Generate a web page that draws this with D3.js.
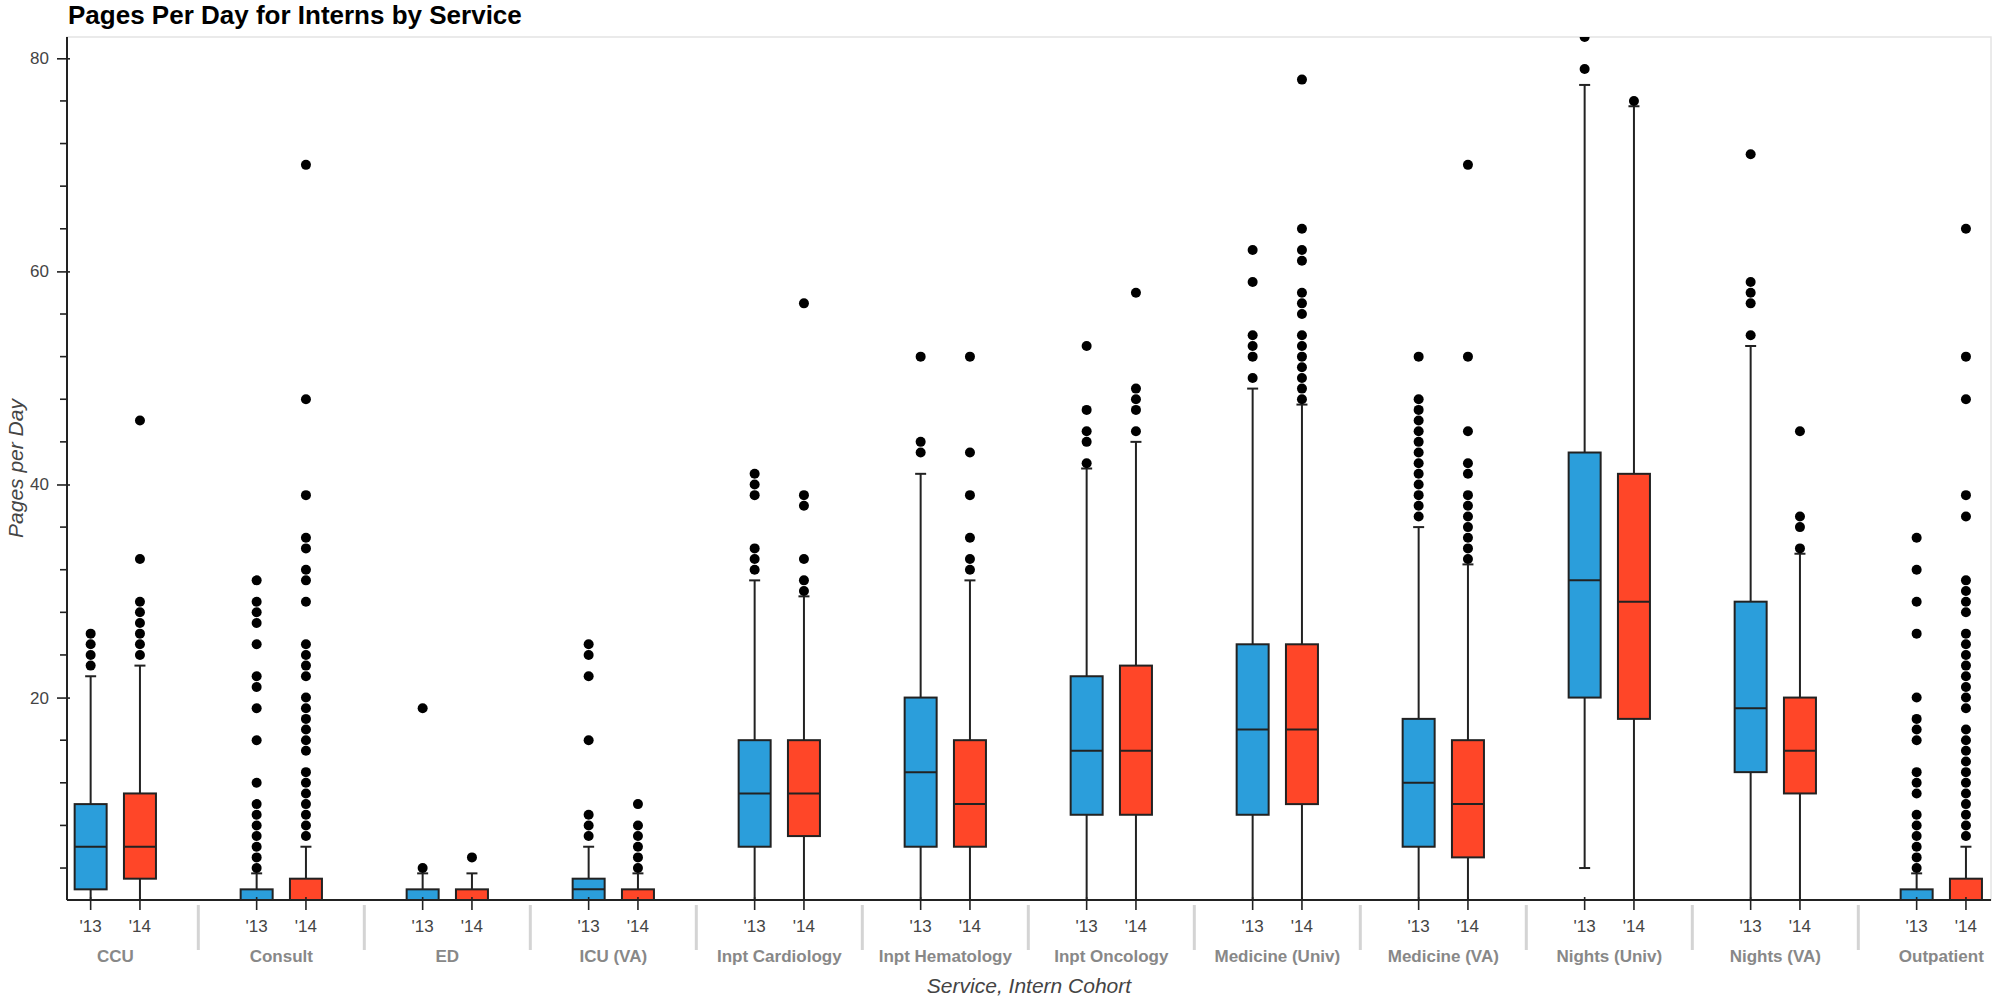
<!DOCTYPE html>
<html>
<head>
<meta charset="utf-8">
<script src="https://cdn.jsdelivr.net/npm/d3@7"></script>
<style>
  body { margin: 0; background: #fff; }
  svg { display: block; font-family: "Liberation Sans", Arial, Helvetica, sans-serif; }
</style>
</head>
<body>
<svg id="chart" width="1993" height="1000"></svg>
<script>
// services and cohorts
var services = ["CCU", "Consult", "ED", "ICU (VA)", "Inpt Cardiology", "Inpt Hematology",
                "Inpt Oncology", "Medicine (Univ)", "Medicine (VA)", "Nights (Univ)", "Nights (VA)", "Outpatient"];
var cohorts = ["'13", "'14"];
var yTicks = [20, 40, 60, 80];

// '13 cohort: box stats
var low13 = [0, 0, 0, 0, 0, 0, 0, 0, 0, 4, 0, 0];
var q1_13 = [2, 0, 0, 0, 6, 6, 9, 9, 6, 20, 13, 0];
var med13 = [6, 0, 0, 2, 11, 13, 15, 17, 12, 31, 19, 0];
var q3_13 = [10, 2, 2, 3, 16, 20, 22, 25, 18, 43, 29, 2];
var high13 = [22, 3.5, 3.5, 6, 31, 41, 41.5, 49, 36, 77.5, 53, 3.5];
var out13 = [
  [23, 24, 25, 26],
  [4, 5, 6, 7, 8, 9, 10, 12, 16, 19, 21, 22, 25, 27, 28, 29, 31],
  [4, 19],
  [7, 8, 9, 16, 22, 24, 25],
  [32, 33, 34, 39, 40, 41],
  [43, 44, 52],
  [42, 44, 45, 47, 53],
  [50, 52, 53, 54, 59, 62],
  [37, 38, 39, 40, 41, 42, 43, 44, 45, 46, 47, 48, 52],
  [79, 82],
  [54, 57, 58, 59, 71],
  [4, 5, 6, 7, 8, 9, 11, 12, 13, 16, 17, 18, 20, 26, 29, 32, 35]
];

// '14 cohort: box stats
var low14 = [0, 0, 0, 0, 0, 0, 0, 0, 0, 0, 0, 0];
var q1_14 = [3, 0, 0, 0, 7, 6, 9, 10, 5, 18, 11, 0];
var med14 = [6, 0, 0, 0, 11, 10, 15, 17, 10, 29, 15, 0];
var q3_14 = [11, 3, 2, 2, 16, 16, 23, 25, 16, 41, 20, 3];
var high14 = [23, 6, 3.5, 3.5, 29.5, 31, 44, 47.5, 32.5, 75.5, 33.5, 6];
var out14 = [
  [24, 25, 26, 27, 28, 29, 33, 46],
  [7, 8, 9, 10, 11, 12, 13, 15, 16, 17, 18, 19, 20, 22, 23, 24, 25, 29, 31, 32, 34, 35, 39, 48, 70],
  [5],
  [4, 5, 6, 7, 8, 10],
  [30, 31, 33, 38, 39, 57],
  [32, 33, 35, 39, 43, 52],
  [45, 47, 48, 49, 58],
  [48, 49, 50, 51, 52, 53, 54, 56, 57, 58, 61, 62, 64, 78],
  [33, 34, 35, 36, 37, 38, 39, 41, 42, 45, 52, 70],
  [76],
  [34, 36, 37, 45],
  [7, 8, 9, 10, 11, 12, 13, 14, 15, 16, 17, 19, 20, 21, 22, 23, 24, 25, 26, 28, 29, 30, 31, 37, 39, 48, 52, 64]
];

var colors = ["#2b9edb", "#ff4628"];

// build rows for drawing
var rows = [];
services.forEach(function (s, i) {
  rows.push({service: s, cohort: cohorts[0], lo: low13[i], q1: q1_13[i], med: med13[i], q3: q3_13[i], hi: high13[i], out: out13[i]});
  rows.push({service: s, cohort: cohorts[1], lo: low14[i], q1: q1_14[i], med: med14[i], q3: q3_14[i], hi: high14[i], out: out14[i]});
});

var pLeft = 67, pRight = 1991, pTop = 37, pBottom = 900,
    step = 166, start = 32.3,
    boxW = 32, capW = 11;

var svg = d3.select("#chart");

var x0 = d3.scaleBand().domain(services).range([start, start + step * services.length]);
var x1 = d3.scalePoint().domain(cohorts).range([step / 2 - 24.65, step / 2 + 24.65]);
var y = d3.scaleLinear().domain([1, 82]).range([pBottom, pTop]);
var color = d3.scaleOrdinal().domain(cohorts).range(colors);

function cx(d) { return x0(d.service) + x1(d.cohort); }

svg.append("defs").append("clipPath").attr("id", "plotclip")
  .append("rect").attr("x", pLeft).attr("y", pTop).attr("width", pRight - pLeft).attr("height", pBottom - pTop);

// frame
svg.append("rect").attr("x", pLeft).attr("y", pTop).attr("width", pRight - pLeft).attr("height", pBottom - pTop)
  .attr("fill", "none").attr("stroke", "#e4e4e4").attr("stroke-width", 1.5);

var plot = svg.append("g").attr("clip-path", "url(#plotclip)");

var g = plot.selectAll("g.box").data(rows).enter().append("g").attr("class", "box");

// whiskers
g.append("line")
  .attr("x1", cx).attr("x2", cx)
  .attr("y1", function (d) { return y(d.hi); }).attr("y2", function (d) { return y(d.q3); })
  .attr("stroke", "#222").attr("stroke-width", 2);
g.append("line")
  .attr("x1", cx).attr("x2", cx)
  .attr("y1", function (d) { return y(d.q1); }).attr("y2", function (d) { return y(d.lo); })
  .attr("stroke", "#222").attr("stroke-width", 2);
g.append("line")
  .attr("x1", function (d) { return cx(d) - capW / 2; }).attr("x2", function (d) { return cx(d) + capW / 2; })
  .attr("y1", function (d) { return y(d.hi); }).attr("y2", function (d) { return y(d.hi); })
  .attr("stroke", "#222").attr("stroke-width", 2);
g.append("line")
  .attr("x1", function (d) { return cx(d) - capW / 2; }).attr("x2", function (d) { return cx(d) + capW / 2; })
  .attr("y1", function (d) { return y(d.lo); }).attr("y2", function (d) { return y(d.lo); })
  .attr("stroke", "#222").attr("stroke-width", 2);

// boxes
g.append("rect")
  .attr("x", function (d) { return cx(d) - boxW / 2; })
  .attr("width", boxW)
  .attr("y", function (d) { return y(d.q3); })
  .attr("height", function (d) { return y(d.q1) - y(d.q3); })
  .attr("fill", function (d) { return color(d.cohort); })
  .attr("stroke", "#222").attr("stroke-width", 2);
g.append("line")
  .attr("x1", function (d) { return cx(d) - boxW / 2; }).attr("x2", function (d) { return cx(d) + boxW / 2; })
  .attr("y1", function (d) { return y(d.med); }).attr("y2", function (d) { return y(d.med); })
  .attr("stroke", "#222").attr("stroke-width", 2);

// outliers
g.selectAll("circle").data(function (d) { return d.out.map(function (v) { return {row: d, v: v}; }); })
  .enter().append("circle")
  .attr("cx", function (p) { return cx(p.row); })
  .attr("cy", function (p) { return y(p.v); })
  .attr("r", 5)
  .attr("fill", "#000");

// y axis
var yAxis = d3.axisLeft(y).tickValues(yTicks).tickSize(10).tickPadding(8);
var yG = svg.append("g").attr("transform", "translate(" + pLeft + ",0)").call(yAxis);
yG.select(".domain").attr("d", "M0," + pTop + "V" + pBottom).attr("stroke", "#222").attr("stroke-width", 2);
yG.selectAll(".tick line").attr("stroke", "#222").attr("stroke-width", 1.6).attr("x2", -10).attr("x1", 3);
yG.selectAll(".tick text").attr("fill", "#444").style("font-size", "17px");
var minor = d3.range(4, 81, 4).filter(function (v) { return v % 20 !== 0; });
yG.selectAll("line.minor").data(minor).enter().append("line").attr("class", "minor")
  .attr("x1", -7).attr("x2", 0)
  .attr("y1", function (v) { return y(v); }).attr("y2", function (v) { return y(v); })
  .attr("stroke", "#222").attr("stroke-width", 1.6);

// x axis (subcategory ticks)
var xAxisG = svg.append("g");
xAxisG.append("line").attr("x1", pLeft).attr("x2", pRight).attr("y1", pBottom).attr("y2", pBottom)
  .attr("stroke", "#222").attr("stroke-width", 2);
xAxisG.selectAll("line.tk").data(rows).enter().append("line").attr("class", "tk")
  .attr("x1", cx).attr("x2", cx).attr("y1", pBottom - 3).attr("y2", pBottom + 10)
  .attr("stroke", "#222").attr("stroke-width", 1.6);
xAxisG.selectAll("text.sub").data(rows).enter().append("text").attr("class", "sub")
  .attr("x", cx).attr("y", 932).attr("text-anchor", "middle")
  .attr("fill", "#444").style("font-size", "17px")
  .text(function (d) { return d.cohort; });
xAxisG.selectAll("text.grp").data(services).enter().append("text").attr("class", "grp")
  .attr("x", function (s) { return x0(s) + step / 2; }).attr("y", 962).attr("text-anchor", "middle")
  .attr("fill", "#888").style("font-size", "17px").style("font-weight", "bold")
  .text(function (s) { return s; });
xAxisG.selectAll("line.sep").data(services.slice(1)).enter().append("line").attr("class", "sep")
  .attr("x1", function (s) { return x0(s); }).attr("x2", function (s) { return x0(s); })
  .attr("y1", 905).attr("y2", 950)
  .attr("stroke", "#d4d4d4").attr("stroke-width", 3);

// axis labels and title
svg.append("text").attr("x", (pLeft + pRight) / 2).attr("y", 993).attr("text-anchor", "middle")
  .attr("fill", "#444").style("font-size", "21px").style("font-style", "italic")
  .text("Service, Intern Cohort");
svg.append("text").attr("transform", "translate(23," + ((pTop + pBottom) / 2) + ") rotate(-90)")
  .attr("text-anchor", "middle")
  .attr("fill", "#444").style("font-size", "21px").style("font-style", "italic")
  .text("Pages per Day");
svg.append("text").attr("x", 68).attr("y", 24)
  .attr("fill", "#000").style("font-size", "26px").style("font-weight", "bold")
  .text("Pages Per Day for Interns by Service");
</script>
</body>
</html>
